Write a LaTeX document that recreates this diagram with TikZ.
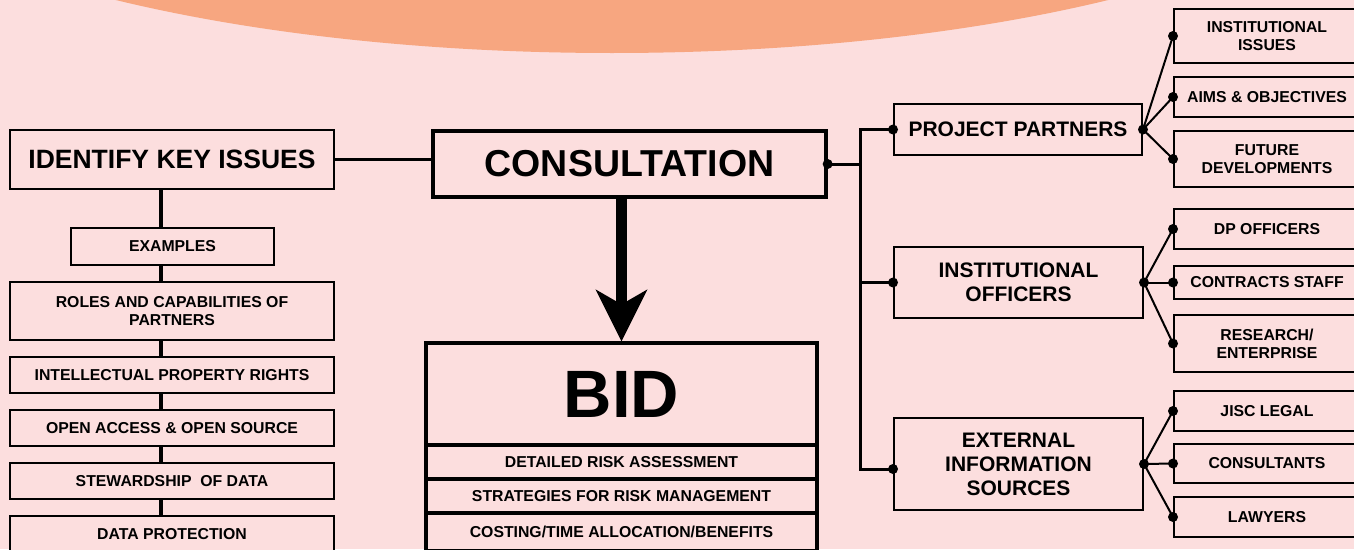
\documentclass[tikz,border=0pt]{standalone}
\usepackage{fontspec}
\setmainfont{Liberation Sans}
\usetikzlibrary{arrows.meta}
\definecolor{bg}{RGB}{252,222,222}
\definecolor{orng}{RGB}{247,166,128}
\begin{document}
\begin{tikzpicture}[x=1pt,y=-1pt,
  box/.style={draw=black, line width=2pt, fill=bg, inner sep=0pt, align=center,
    font=\fontsize{15.8}{18}\selectfont\bfseries},
  midbox/.style={box, font=\fontsize{21}{24}\selectfont\bfseries},
  bigbox/.style={box, line width=3.3pt},
  chain/.style={draw=black, line width=4pt},
  conn/.style={draw=black, line width=3pt},
  fan/.style={draw=black, line width=2pt},
  dot/.style={fill=black}
]
\path[use as bounding box, fill=bg] (0,0) rectangle (1354,549);
\clip (0,0) rectangle (1354,549);
\fill[orng] (612,-197) ellipse [x radius=806pt, y radius=250pt];

% left column
\node[box, minimum width=324pt, minimum height=59pt, font=\fontsize{26.5}{30}\selectfont\bfseries] (ident) at (172,159.5) {IDENTIFY KEY ISSUES};
\node[box, minimum width=203pt, minimum height=37pt] (examples) at (172.5,246.5) {EXAMPLES};
\node[box, minimum width=324pt, minimum height=58pt] (roles) at (172,311) {ROLES AND CAPABILITIES OF\\PARTNERS};
\node[box, minimum width=324pt, minimum height=36pt] (ipr) at (172,375) {INTELLECTUAL PROPERTY RIGHTS};
\node[box, minimum width=324pt, minimum height=36pt] (oa) at (172,428) {OPEN ACCESS \& OPEN SOURCE};
\node[box, minimum width=324pt, minimum height=36pt] (stew) at (172,481) {STEWARDSHIP\ \ OF DATA};
\node[box, minimum width=324pt, minimum height=36pt] (dp) at (172,534) {DATA PROTECTION};

\coordinate (lx) at (161,0);
\foreach \a/\b in {ident/examples, examples/roles, roles/ipr, ipr/oa, oa/stew, stew/dp}
  \draw[chain] (lx |- \a.south) -- (lx |- \b.north);

% centre
\node[bigbox, minimum width=393pt, minimum height=66pt, font=\fontsize{37.5}{40}\selectfont\bfseries] (consult) at (629.5,164) {CONSULTATION};
\draw[conn] (ident.east) -- (ident.east -| consult.west);

\node[bigbox, minimum width=391pt, minimum height=102pt, font=\fontsize{67}{70}\selectfont\bfseries] (bid) at (621.5,394) {BID};
\node[bigbox, minimum width=391pt, minimum height=34pt] (detail) at (621.5,462) {DETAILED RISK ASSESSMENT};
\node[bigbox, minimum width=391pt, minimum height=34pt] (strat) at (621.5,496) {STRATEGIES FOR RISK MANAGEMENT};
\node[bigbox, minimum width=391pt, minimum height=38pt] (cost) at (621.5,532) {COSTING/TIME ALLOCATION/BENEFITS};

\draw[line width=11pt, -{Stealth[length=52pt, width=52pt, inset=15pt, line width=0pt]}]
  (bid.north |- consult.south) -- (bid.north);

% middle-right column
\node[midbox, minimum width=248pt, minimum height=51pt] (pp) at (1018,129.5) {PROJECT PARTNERS};
\node[midbox, minimum width=249pt, minimum height=71pt] (io) at (1018.5,282.5) {INSTITUTIONAL\\OFFICERS};
\node[midbox, minimum width=249pt, minimum height=92pt] (ext) at (1018.5,464) {EXTERNAL\\INFORMATION\\SOURCES};

\coordinate (trunk) at (860,164);
\draw[conn] (consult.east) -- (consult.east -| trunk);
\draw[conn] (pp.west) -- (pp.west -| trunk) -- ([yshift=-5pt]ext.west -| trunk) -- ([yshift=-5pt]ext.west);
\draw[conn] (io.west) -- (io.west -| trunk);
\fill[dot] (consult.east) circle (5pt);
\fill[dot] (pp.west) circle (5pt);
\fill[dot] (io.west) circle (5pt);
\fill[dot] ([yshift=-5pt]ext.west) circle (5pt);

% right column
\node[box, minimum width=186pt, minimum height=54pt] (ii) at (1267,36) {INSTITUTIONAL\\ISSUES};
\node[box, minimum width=186pt, minimum height=40pt] (aims) at (1267,97) {AIMS \& OBJECTIVES};
\node[box, minimum width=186pt, minimum height=56pt] (fut) at (1267,159) {FUTURE\\DEVELOPMENTS};
\node[box, minimum width=186pt, minimum height=40pt] (dpo) at (1267,229) {DP OFFICERS};
\node[box, minimum width=186pt, minimum height=33pt] (cs) at (1267,282.5) {CONTRACTS STAFF};
\node[box, minimum width=186pt, minimum height=57pt] (res) at (1267,343.5) {RESEARCH/\\ENTERPRISE};
\node[box, minimum width=186pt, minimum height=40pt] (jisc) at (1267,411) {JISC LEGAL};
\node[box, minimum width=186pt, minimum height=39pt] (cons) at (1267,463.5) {CONSULTANTS};
\node[box, minimum width=186pt, minimum height=40pt] (law) at (1267,517) {LAWYERS};

\foreach \p/\kids in {pp/{ii,aims,fut}, io/{dpo,cs,res}, ext/{jisc,cons,law}} {
  \foreach \k in \kids {
    \draw[fan] (\p.east) -- (\k.west);
    \fill[dot] (\k.west) circle (5pt);
  }
  \fill[dot] (\p.east) circle (5pt);
}
\end{tikzpicture}
\end{document}
